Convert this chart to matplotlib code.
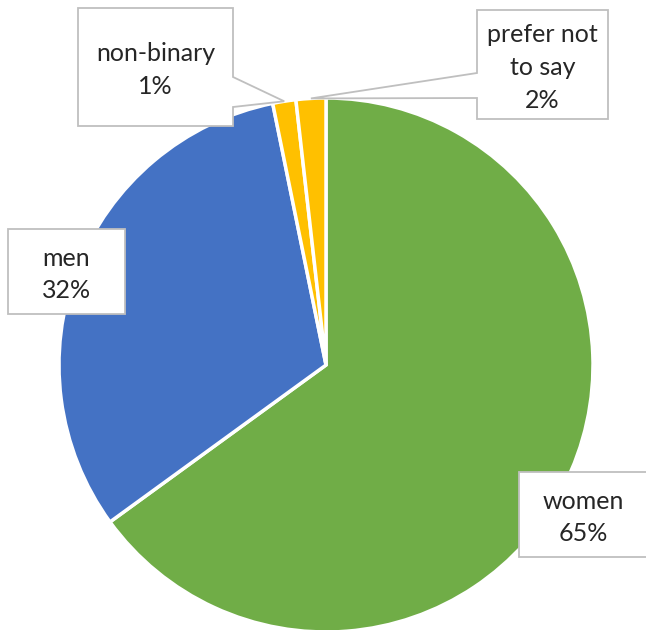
import matplotlib.pyplot as plt
import numpy as np
from matplotlib.patches import Polygon

# data (clockwise from 12 o'clock)
labels = ['women', 'men', 'non-binary', 'prefer not\nto say']
shares = [65.0, 31.8, 1.4, 1.8]
colors = ['#70AD47', '#4472C4', '#FFC000', '#FFC000']

W, H = 646, 630
cx, cy, r = 326, 365, 267   # pie centre / radius in image pixels (y down)

# label boxes (x0, y0, x1, y1) in image pixels, and callout side
boxes = [(519, 472, 648, 557), (8, 229, 125, 314), (78, 8, 233, 126), (477, 10, 608, 119)]
callout = [None, None, ('right', 77, 107), ('left', 73, 98)]

fig = plt.figure(figsize=(W / 100, H / 100), dpi=100)
ax = fig.add_axes([0, 0, 1, 1])


def fy(y):
    return H - y


wedges, _ = ax.pie(shares, colors=colors, startangle=90, counterclock=False,
                   center=(cx, fy(cy)), radius=r,
                   wedgeprops=dict(edgecolor='white', linewidth=2.5))
ax.set_xlim(0, W)
ax.set_ylim(0, H)
ax.axis('off')

for i, w in enumerate(wedges):
    x0, y0, x1, y1 = boxes[i]
    pts = [(x0, y0), (x1, y0), (x1, y1), (x0, y1)]
    if callout[i] is not None:
        side, ya, yb = callout[i]
        mid = np.deg2rad((w.theta1 + w.theta2) / 2)
        tip = (cx + r * np.cos(mid), cy - r * np.sin(mid))
        if side == 'right':
            pts = [(x0, y0), (x1, y0), (x1, ya), tip, (x1, yb), (x1, y1), (x0, y1)]
        else:
            pts = [(x0, y0), (x1, y0), (x1, y1), (x0, y1), (x0, yb), tip, (x0, ya)]
    poly = Polygon([(px, fy(py)) for px, py in pts], closed=True,
                   facecolor='white', edgecolor='#BFBFBF', linewidth=1.3, zorder=3)
    ax.add_patch(poly)
    txt = f'{labels[i]}\n{shares[i]:.0f}%'
    ax.text((x0 + x1) / 2, fy((y0 + y1) / 2 + 3), txt, ha='center', va='center',
            fontsize=18, family='Lato', color='#262626', linespacing=1.5, zorder=4)

fig.savefig('out.png', dpi=100, facecolor='white')
